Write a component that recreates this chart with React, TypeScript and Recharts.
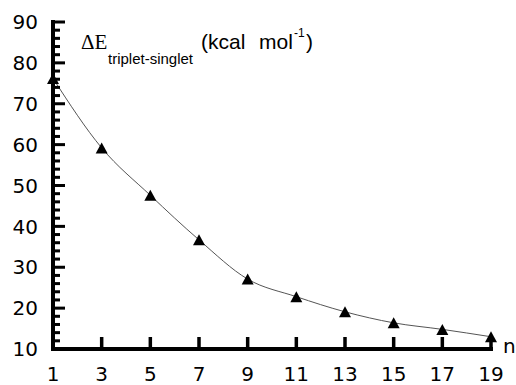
import React from 'react';
import { LineChart, Line, XAxis, YAxis } from 'recharts';

const nValues = [1, 3, 5, 7, 9, 11, 13, 15, 17, 19];
const deltaE = [76.2, 59.2, 47.6, 36.7, 27.1, 22.8, 19.1, 16.4, 14.8, 13.0];
const xTicks = [1, 3, 5, 7, 9, 11, 13, 15, 17, 19];
const yMajorTicks = [10, 20, 30, 40, 50, 60, 70, 80, 90];
const yAllTicks = [
  10, 12, 14, 16, 18, 20, 22, 24, 26, 28, 30, 32, 34, 36, 38, 40, 42, 44, 46, 48, 50,
  52, 54, 56, 58, 60, 62, 64, 66, 68, 70, 72, 74, 76, 78, 80, 82, 84, 86, 88, 90,
];

const data = nValues.map((n, i) => ({ n, e: deltaE[i] }));

const TICK_FONT = 'DejaVu Sans';

const renderYTick = (props: any) => {
  const x = Number(props.x);
  const y = Number(props.y);
  const v = props.payload.value;
  const major = yMajorTicks.includes(v);
  const len = major ? 12 : 7;
  return (
    <g key={`yt-${v}`}>
      <rect x={x} y={y - 1.5} width={len} height={3} fill="black" />
      {major && (
        <text x={x - 15} y={y} dy="0.36em" textAnchor="end" fontFamily={TICK_FONT} fontSize={20} fill="black">
          {v}
        </text>
      )}
    </g>
  );
};

const renderXTick = (props: any) => {
  const x = Number(props.x);
  const y = Number(props.y);
  const v = props.payload.value;
  return (
    <g key={`xt-${v}`}>
      <rect x={x - 1.75} y={y - 12} width={3.5} height={12} fill="black" />
      <text x={x} y={y + 32} textAnchor="middle" fontFamily={TICK_FONT} fontSize={20} fill="black">
        {v}
      </text>
    </g>
  );
};

const renderTitle = () => (
  <g>
    <text x={81} y={49} fontFamily="Liberation Serif" fontSize={21} fill="black">
      ΔE
    </text>
    <text x={108} y={64} fontFamily="Liberation Sans" fontSize={15} fill="black">
      triplet-singlet
    </text>
    <text x={201} y={49} fontFamily="Liberation Sans" fontSize={21} fill="black">
      (kcal
    </text>
    <text x={259} y={49} fontFamily="Liberation Sans" fontSize={21} fill="black">
      mol
    </text>
    <text x={294} y={37} fontFamily="Liberation Sans" fontSize={12} fill="black">
      -1
    </text>
    <text x={306} y={49} fontFamily="Liberation Sans" fontSize={21} fill="black">
      )
    </text>
  </g>
);

const renderN = () => (
  <text x={503} y={353} fontFamily={TICK_FONT} fontSize={20} fill="black">
    n
  </text>
);

const Triangle = (props: any) => {
  const { cx, cy, index } = props;
  if (cx == null || cy == null) return <g key={index} />;
  return (
    <path
      key={index}
      d={`M${cx},${cy - 5.5} L${cx + 6},${cy + 5.5} L${cx - 6},${cy + 5.5} Z`}
      fill="black"
    />
  );
};

export default function App() {
  return (
    <div style={{ width: 516, height: 385, background: '#fff' }}>
      <style>{'body{margin:0;background:#fff}'}</style>
      <LineChart
        width={516}
        height={385}
        data={data}
        margin={{ top: 22, right: 25, bottom: 0, left: 0 }}
      >
        <XAxis
          dataKey="n"
          type="number"
          domain={[1, 19]}
          ticks={xTicks}
          interval={0}
          height={36}
          tickSize={0}
          tickMargin={0}
          tickLine={false}
          axisLine={{ stroke: 'black', strokeWidth: 4, strokeLinecap: 'square' }}
          tick={renderXTick}
          label={{ content: renderN }}
        />
        <YAxis
          type="number"
          domain={[10, 90]}
          ticks={yAllTicks}
          interval={0}
          width={53}
          tickSize={0}
          tickMargin={0}
          tickLine={false}
          axisLine={{ stroke: 'black', strokeWidth: 4, strokeLinecap: 'square' }}
          tick={renderYTick}
          label={{ content: renderTitle }}
        />
        <Line
          type="monotone"
          dataKey="e"
          stroke="#555"
          strokeWidth={1}
          dot={(p: any) => <Triangle key={p.index} {...p} />}
          activeDot={false}
          isAnimationActive={false}
        />
      </LineChart>
    </div>
  );
}
